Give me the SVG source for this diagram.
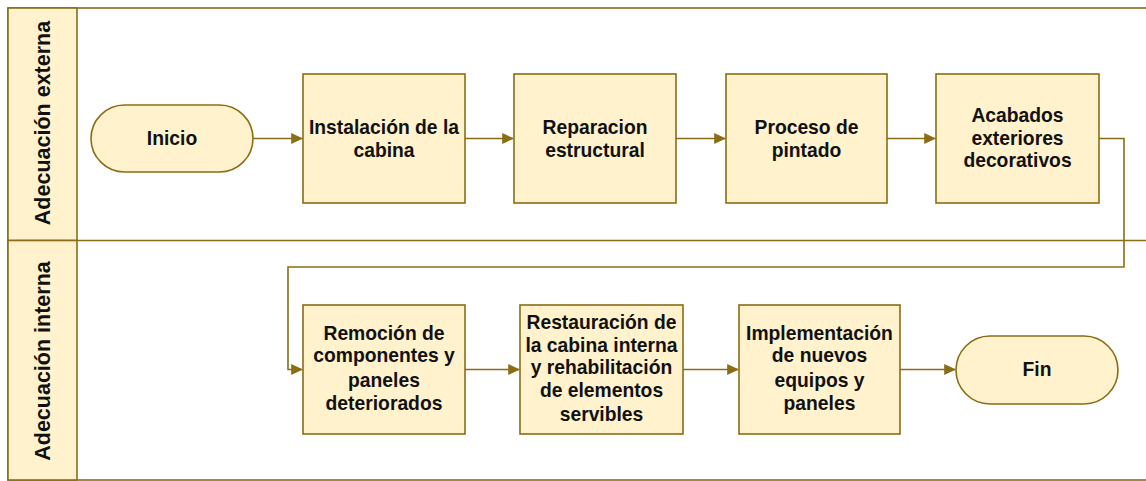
<svg xmlns="http://www.w3.org/2000/svg" width="1146" height="481" viewBox="0 0 1146 481">
<style>
.sh{fill:#fff2cc;stroke:#8a6d14;stroke-width:1.6}
.ln{fill:none;stroke:#8a6d14;stroke-width:1.6}
.c{fill:none;stroke:#8a6d14;stroke-width:1.6}
text{font-family:"Liberation Sans",Arial,sans-serif;font-weight:bold;font-size:19.3px;fill:#111;text-anchor:middle}
.lane{font-size:21.5px}
</style>
<defs>
<marker id="ar" viewBox="0 0 10 10" refX="9" refY="5" markerWidth="12" markerHeight="11" markerUnits="userSpaceOnUse" orient="auto" preserveAspectRatio="none">
<path d="M0,0 L10,5 L0,10 Z" fill="#8a6d14"/>
</marker>
</defs>
<rect width="1146" height="481" fill="#fff"/>
<g id="pool">
<rect x="8" y="8" width="1150" height="472" class="ln"/>
<line x1="8" y1="240.5" x2="1150" y2="240.5" class="ln"/>
<rect x="8" y="8" width="69" height="232.5" class="sh"/>
<rect x="8" y="240.5" width="69" height="239.5" class="sh"/>
<text class="lane" transform="translate(50,123) rotate(-90)" x="0" y="0">Adecuación externa</text>
<text class="lane" transform="translate(50,361) rotate(-90)" x="0" y="0">Adecuación interna</text>
</g>
<g id="connectors">
<path class="c" d="M253,138.5 H302" marker-end="url(#ar)"/>
<path class="c" d="M465,138.5 H513" marker-end="url(#ar)"/>
<path class="c" d="M676,138.5 H725" marker-end="url(#ar)"/>
<path class="c" d="M887,138.5 H935" marker-end="url(#ar)"/>
<path class="c" d="M1099,138.5 H1124 V267 H288 V369.5 H302" marker-end="url(#ar)"/>
<path class="c" d="M465,369.5 H519" marker-end="url(#ar)"/>
<path class="c" d="M683,369.5 H738" marker-end="url(#ar)"/>
<path class="c" d="M900,369.5 H955" marker-end="url(#ar)"/>
</g>
<g id="inicio">
<rect x="91" y="105" width="162" height="67" rx="33.5" class="sh"/>
<text x="172" y="145">Inicio</text>
</g>
<g id="instalacion">
<rect x="303" y="74" width="162" height="129" class="sh"/>
<text x="384" y="134">Instalación de la</text>
<text x="384" y="156.5">cabina</text>
</g>
<g id="reparacion">
<rect x="514" y="74" width="162" height="129" class="sh"/>
<text x="595" y="134">Reparacion</text>
<text x="595" y="156.5">estructural</text>
</g>
<g id="proceso">
<rect x="726" y="74" width="161" height="129" class="sh"/>
<text x="806.5" y="134">Proceso de</text>
<text x="806.5" y="156.5">pintado</text>
</g>
<g id="acabados">
<rect x="936" y="74" width="163" height="129" class="sh"/>
<text x="1017.5" y="122">Acabados</text>
<text x="1017.5" y="144.5">exteriores</text>
<text x="1017.5" y="167">decorativos</text>
</g>
<g id="remocion">
<rect x="303" y="305" width="162" height="129" class="sh"/>
<text x="384" y="339.5">Remoción de</text>
<text x="384" y="362">componentes y</text>
<text x="384" y="387">paneles</text>
<text x="384" y="410">deteriorados</text>
</g>
<g id="restauracion">
<rect x="520" y="305" width="163" height="129" class="sh"/>
<text x="601.5" y="328.5">Restauración de</text>
<text x="601.5" y="351.5">la cabina interna</text>
<text x="601.5" y="374">y rehabilitación</text>
<text x="601.5" y="396.5">de elementos</text>
<text x="601.5" y="421">servibles</text>
</g>
<g id="implementacion">
<rect x="739" y="305" width="161" height="129" class="sh"/>
<text x="819.5" y="339.5">Implementación</text>
<text x="819.5" y="362">de nuevos</text>
<text x="819.5" y="387">equipos y</text>
<text x="819.5" y="410">paneles</text>
</g>
<g id="fin">
<rect x="956" y="336" width="162" height="68" rx="34" class="sh"/>
<text x="1037" y="376">Fin</text>
</g>
</svg>
